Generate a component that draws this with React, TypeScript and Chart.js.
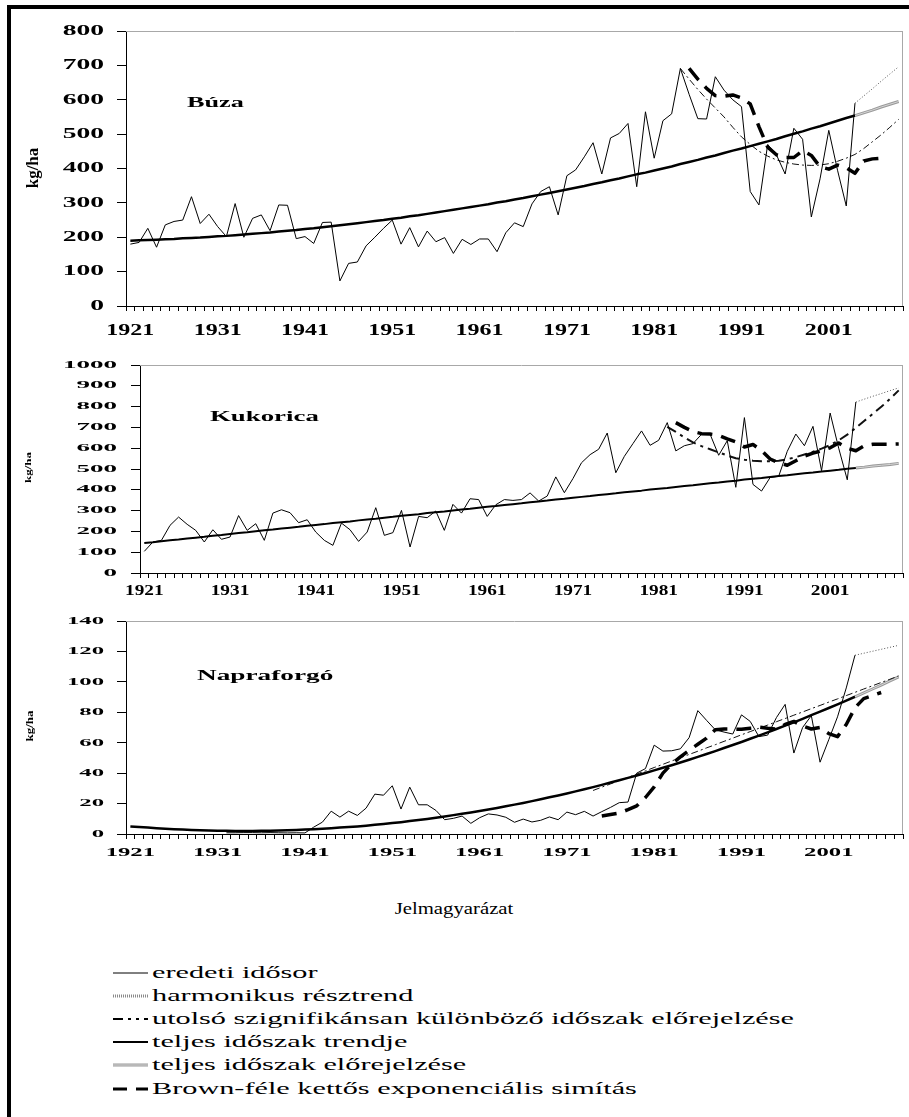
import React, { useEffect, useRef } from 'react';
import { Chart, registerables } from 'chart.js';

Chart.register(...registerables);

// ---------- categories ----------
const FIRST_YEAR = 1921;
const LAST_YEAR = 2009;
const YEARS: string[] = [];
for (let y = FIRST_YEAR; y <= LAST_YEAR; y++) YEARS.push(String(y));
const X_TICK_LABELS = ['1921', '1931', '1941', '1951', '1961', '1971', '1981', '1991', '2001'];

// ---------- Búza (wheat) ----------
const BUZA_Y_TICKS = [0, 100, 200, 300, 400, 500, 600, 700, 800];
const BUZA_ORIG_START = 1921;
const BUZA_ORIG = [
  180, 185, 226, 171, 236, 246, 250, 318, 240, 267,
  231, 202, 298, 200, 255, 265, 219, 294, 293, 196,
  202, 182, 243, 244, 73, 124, 128, 175, 200, 226,
  250, 180, 228, 172, 218, 187, 199, 153, 194, 179,
  195, 195, 158, 213, 242, 231, 297, 333, 347, 265,
  379, 396, 434, 475, 384, 489, 502, 531, 347, 565,
  430, 539, 559, 691, 616, 545, 544, 667, 628, 600,
  580, 333, 294, 470, 440, 384, 517, 485, 259, 370,
  511, 395, 291, 590,
];
const BUZA_TREND_START = 1921;
const BUZA_TREND = [
  190, 191, 192, 193, 194, 195, 197, 198, 199, 201,
  203, 204, 206, 208, 210, 212, 214, 217, 219, 221,
  224, 226, 229, 232, 235, 238, 241, 244, 247, 250,
  254, 257, 261, 264, 268, 272, 276, 280, 284, 288,
  292, 296, 301, 305, 310, 314, 319, 324, 329, 334,
  339, 344, 349, 355, 360, 366, 371, 377, 383, 388,
  394, 400, 406, 413, 419, 425, 432, 438, 445, 452,
  458, 465, 472, 479, 486, 494, 501, 508, 516, 523,
  531, 539, 547, 554,
];
const BUZA_FCAST_START = 2004;
const BUZA_FCAST = [554, 562, 570, 579, 587, 595];
const BUZA_HARM_START = 2004;
const BUZA_HARM = [590, 611, 632, 654, 675, 696];
const BUZA_LASTSIG_START = 1984;
const BUZA_LASTSIG = [
  691, 660, 630, 602, 576, 550, 520, 492, 470, 450,
  436, 425, 418, 413, 410, 409, 410, 414, 421, 430,
  441, 458, 478, 498, 520, 543,
];
const BUZA_BROWN_START = 1985;
const BUZA_BROWN = [
  691, 660, 633, 612, 610, 614, 605, 588, 522, 462,
  440, 432, 432, 452, 438, 405, 398, 410, 402, 386,
  422, 428, 430,
];

// ---------- Kukorica (maize) ----------
const KUK_Y_TICKS = [0, 100, 200, 300, 400, 500, 600, 700, 800, 900, 1000];
const KUK_ORIG_START = 1921;
const KUK_ORIG = [
  104, 149, 157, 229, 269, 234, 205, 149, 208, 162,
  173, 276, 205, 237, 157, 288, 304, 290, 242, 256,
  197, 157, 133, 240, 208, 152, 197, 314, 181, 194,
  301, 125, 272, 266, 298, 205, 330, 288, 357, 353,
  272, 328, 353, 349, 353, 385, 346, 370, 462, 386,
  454, 530, 569, 595, 673, 482, 561, 622, 683, 614,
  638, 723, 587, 612, 622, 667, 667, 566, 636, 412,
  747, 426, 394, 459, 465, 585, 668, 612, 705, 492,
  769, 600, 448, 822,
];
const KUK_TREND_START = 1921;
const KUK_TREND = [
  144, 148, 153, 157, 161, 166, 170, 174, 179, 183,
  188, 192, 196, 201, 205, 209, 214, 218, 222, 227,
  231, 235, 240, 244, 248, 253, 257, 261, 266, 270,
  275, 279, 283, 288, 292, 296, 301, 305, 309, 314,
  318, 322, 327, 331, 335, 340, 344, 348, 353, 357,
  362, 366, 370, 375, 379, 383, 388, 392, 396, 401,
  405, 409, 414, 418, 422, 427, 431, 435, 440, 444,
  449, 453, 457, 462, 466, 470, 475, 479, 483, 488,
  492, 496, 501, 505,
];
const KUK_FCAST_START = 2004;
const KUK_FCAST = [505, 509, 514, 518, 522, 527];
const KUK_HARM_START = 2004;
const KUK_HARM = [822, 836, 850, 863, 877, 890];
const KUK_LASTSIG_START = 1982;
const KUK_LASTSIG = [
  702, 678, 652, 628, 610, 595, 580, 565, 552, 545,
  540, 537, 537, 540, 547, 557, 570, 583, 598, 615,
  638, 665, 698, 732, 766, 800, 838, 878,
];
const KUK_BROWN_START = 1983;
const KUK_BROWN = [
  723, 700, 680, 670, 668, 662, 645, 630, 606, 618,
  588, 548, 530, 518, 540, 562, 576, 588, 602, 625,
  600, 588, 612, 619, 619, 619, 620,
];

// ---------- Napraforgó (sunflower) ----------
const NAP_Y_TICKS = [0, 20, 40, 60, 80, 100, 120, 140];
const NAP_ORIG_START = 1932;
const NAP_ORIG = [
  0.8, 0.8, 0.9, 0.9, 0.8, 0.9, 0.8, 0.7, 0.8, 0.7,
  4.5, 7.8, 15, 11.1, 15, 12.2, 17, 26.2, 25.5, 31.7,
  16.4, 30.8, 19.2, 19.2, 15.5, 9.4, 10.3, 11.8, 7, 10.7,
  13.2, 12.5, 11, 7.7, 9.8, 7.9, 9, 11.2, 9.4, 14.4,
  12.7, 14.9, 11.8, 14.7, 17.5, 20.6, 21, 40, 43, 58.4,
  54.5, 54.7, 56, 63.3, 81.1, 74.7, 68.5, 67, 65.7, 78.3,
  74, 64, 65, 76.5, 85.2, 53.2, 70, 77.8, 47.2, 62,
  77, 96, 117.5,
];
const NAP_TREND_START = 1921;
const NAP_TREND = [
  5.0, 4.6, 4.2, 3.8, 3.5, 3.2, 2.9, 2.7, 2.5, 2.3,
  2.2, 2.1, 2.0, 2.0, 2.0, 2.1, 2.2, 2.3, 2.5, 2.7,
  2.9, 3.2, 3.5, 3.8, 4.2, 4.6, 5.0, 5.5, 6.1, 6.6,
  7.2, 7.8, 8.5, 9.2, 9.9, 10.7, 11.5, 12.4, 13.3, 14.2,
  15.1, 16.1, 17.1, 18.2, 19.3, 20.4, 21.6, 22.8, 24.1, 25.3,
  26.6, 28.0, 29.4, 30.8, 32.3, 33.8, 35.3, 36.9, 38.5, 40.1,
  41.8, 43.5, 45.2, 47.0, 48.8, 50.7, 52.6, 54.5, 56.5, 58.5,
  60.5, 62.6, 64.7, 66.8, 69.0, 71.2, 73.4, 75.7, 78.1, 80.4,
  82.8, 85.2, 87.7, 90.2,
];
const NAP_FCAST_START = 2004;
const NAP_FCAST = [90.2, 92.7, 95.3, 97.9, 100.6, 103.3];
const NAP_HARM_START = 2004;
const NAP_HARM = [117.5, 118.8, 120.1, 121.4, 122.7, 124.0];
const NAP_LASTSIG_START = 1974;
const NAP_LASTSIG = [
  28.6, 30.8, 32.9, 35.1, 37.2, 39.4, 41.5, 43.7, 45.8, 48.0,
  50.1, 52.3, 54.4, 56.6, 58.7, 60.9, 63.0, 65.2, 67.3, 69.5,
  71.6, 73.8, 75.9, 78.1, 80.2, 82.4, 84.5, 86.7, 88.8, 91.0,
  93.1, 95.3, 97.4, 99.6, 101.7, 103.9,
];
const NAP_BROWN_START = 1975;
const NAP_BROWN = [
  11.8, 12.8, 13.8, 16.0, 18.5, 24.0, 31.0, 40.0, 46.0, 50.7,
  55.0, 59.0, 63.0, 68.5, 69.0, 69.0, 68.8, 69.5, 70.2, 69.5,
  69.0, 72.0, 74.0, 71.0, 69.0, 70.0, 66.0, 64.0, 72.0, 83.0,
  89.0, 91.0, 93.0,
];

// ---------- legend ----------
const LEGEND_LABELS = [
  'eredeti idősor',
  'harmonikus résztrend',
  'utolsó szignifikánsan különböző időszak előrejelzése',
  'teljes időszak trendje',
  'teljes időszak előrejelzése',
  'Brown-féle kettős exponenciális simítás',
];
const LEGEND_TITLE = 'Jelmagyarázat';

// ---------- helpers ----------
function place(start: number, vals: number[]): (number | null)[] {
  const out: (number | null)[] = YEARS.map(() => null);
  vals.forEach((v, k) => {
    out[start - FIRST_YEAR + k] = v;
  });
  return out;
}

const SERIF = '"Liberation Serif", "Times New Roman", serif';

const stretchTextPlugin = {
  id: 'stretchText',
  beforeDatasetsDraw(chart: any) {
    const { ctx, chartArea } = chart;
    ctx.save();
    ctx.strokeStyle = '#a8a8a8';
    ctx.lineWidth = 1;
    ctx.beginPath();
    ctx.moveTo(chartArea.left, chartArea.top + 0.5);
    ctx.lineTo(chartArea.right, chartArea.top + 0.5);
    ctx.moveTo(chartArea.right - 0.5, chartArea.top);
    ctx.lineTo(chartArea.right - 0.5, chartArea.bottom);
    ctx.stroke();
    ctx.restore();
  },
  afterDraw(chart: any, _args: any, opts: any) {
    const ctx = chart.ctx;
    const xs = chart.scales.x;
    const ys = chart.scales.y;
    const top = opts.canvasTop;
    ctx.save();
    ctx.fillStyle = '#000';

    // y tick labels
    const yt = opts.yTicks;
    ctx.font = `bold ${yt.size}px ${SERIF}`;
    ctx.textAlign = 'right';
    ctx.textBaseline = 'middle';
    for (const v of yt.values) {
      const y = ys.getPixelForValue(v);
      ctx.save();
      ctx.translate(yt.right, y + (yt.dy || 0));
      ctx.scale(yt.sx, yt.sy);
      ctx.fillText(String(v), 0, 0);
      ctx.restore();
    }

    // x tick labels
    const xt = opts.xTicks;
    ctx.font = `bold ${xt.size}px ${SERIF}`;
    ctx.textAlign = 'center';
    ctx.textBaseline = 'middle';
    for (const lab of xt.labels) {
      const idx = YEARS.indexOf(lab);
      const x = xs.getPixelForValue(idx);
      ctx.save();
      ctx.translate(x, xt.y - top);
      ctx.scale(xt.sx, xt.sy);
      ctx.fillText(lab, 0, 0);
      ctx.restore();
    }

    // chart title inside plot
    const t = opts.title;
    ctx.font = `bold ${t.size}px ${SERIF}`;
    ctx.textAlign = 'left';
    ctx.textBaseline = 'alphabetic';
    ctx.save();
    ctx.translate(t.x, t.y - top);
    ctx.scale(t.sx, 1);
    ctx.fillText(t.text, 0, 0);
    ctx.restore();

    // axis title (rotated)
    const a = opts.axisTitle;
    ctx.font = `bold ${a.size}px ${SERIF}`;
    ctx.textAlign = 'center';
    ctx.textBaseline = 'middle';
    ctx.save();
    ctx.translate(a.x, a.y - top);
    ctx.rotate(-Math.PI / 2);
    ctx.scale(1, a.squash);
    ctx.fillText(a.text, 0, 0);
    ctx.restore();

    ctx.restore();
  },
};

function ds(data: (number | null)[], color: string, width: number, dash: number[] = []) {
  return {
    data,
    borderColor: color,
    backgroundColor: color,
    borderWidth: width,
    borderDash: dash,
    pointRadius: 0,
    pointHoverRadius: 0,
    fill: false,
    tension: 0,
    spanGaps: false,
    borderCapStyle: 'butt',
    borderJoinStyle: 'round',
  };
}

interface Spec {
  canvasTop: number;
  height: number;
  padTop: number;
  xHeight: number;
  yWidth: number;
  yMax: number;
  yStep: number;
  datasets: any[];
  text: any;
}

function ChartBlock({ spec }: { spec: Spec }) {
  const ref = useRef<HTMLCanvasElement | null>(null);
  useEffect(() => {
    if (!ref.current) return;
    const chart = new Chart(ref.current, {
      type: 'line',
      data: { labels: YEARS, datasets: spec.datasets },
      options: {
        responsive: false,
        maintainAspectRatio: false,
        animation: false,
        devicePixelRatio: 1,
        events: [],
        layout: { padding: { top: spec.padTop, right: 6, left: 0, bottom: 0 } },
        plugins: {
          legend: { display: false },
          tooltip: { enabled: false },
          title: { display: false },
          stretchText: spec.text,
        } as any,
        scales: {
          x: {
            type: 'category',
            offset: true,
            grid: {
              display: true,
              drawOnChartArea: false,
              drawTicks: true,
              tickLength: 5,
              color: '#000',
              lineWidth: 1,
              offset: true,
            },
            border: { display: true, color: '#000', width: 1 },
            ticks: { display: false, autoSkip: false },
            afterFit: (s: any) => {
              s.height = spec.xHeight;
            },
          },
          y: {
            type: 'linear',
            min: 0,
            max: spec.yMax,
            ticks: { display: false, stepSize: spec.yStep },
            grid: {
              display: true,
              drawOnChartArea: false,
              drawTicks: true,
              tickLength: 9,
              color: '#000',
              lineWidth: 1,
            },
            border: { display: true, color: '#000', width: 1 },
            afterFit: (s: any) => {
              s.width = spec.yWidth;
            },
          },
        },
      } as any,
      plugins: [stretchTextPlugin as any],
    });
    return () => chart.destroy();
  }, [spec]);
  return (
    <canvas
      ref={ref}
      width={909}
      height={spec.height}
      style={{ position: 'absolute', left: 0, top: spec.canvasTop, width: 909, height: spec.height }}
    />
  );
}

function makeDatasets(
  orig: (number | null)[],
  trend: (number | null)[],
  fcast: (number | null)[],
  harm: (number | null)[],
  lastSig: (number | null)[],
  brown: (number | null)[],
  trendWidth: number,
  lastSigWidth: number,
  lastSigDash: number[],
) {
  return [
    ds(orig, '#000', 1),
    ds(trend, '#000', trendWidth),
    ds(brown, '#000', 3.5, [15, 9]),
    ds(lastSig, '#111', lastSigWidth, lastSigDash),
    ds(harm, '#555', 1, [1, 2]),
    ds(fcast, '#d6d6d6', 1),
    ds(fcast, '#9a9a9a', 3),
  ];
}

const SPEC_BUZA: Spec = {
  canvasTop: 0,
  height: 345,
  padTop: 31,
  xHeight: 39,
  yWidth: 126,
  yMax: 800,
  yStep: 100,
  datasets: makeDatasets(
    place(BUZA_ORIG_START, BUZA_ORIG),
    place(BUZA_TREND_START, BUZA_TREND),
    place(BUZA_FCAST_START, BUZA_FCAST),
    place(BUZA_HARM_START, BUZA_HARM),
    place(BUZA_LASTSIG_START, BUZA_LASTSIG),
    place(BUZA_BROWN_START, BUZA_BROWN),
    2.5,
    1,
    [7, 3, 2, 3],
  ),
  text: {
    canvasTop: 0,
    yTicks: { values: BUZA_Y_TICKS, size: 14.5, sx: 1.9, sy: 1, right: 104 },
    xTicks: { labels: X_TICK_LABELS, size: 16, sx: 1.5, sy: 1, y: 331 },
    title: { text: 'Búza', x: 187, y: 107, size: 15, sx: 1.75 },
    axisTitle: { text: 'kg/ha', x: 33.5, y: 168, size: 17, squash: 1 },
  },
};

const SPEC_KUK: Spec = {
  canvasTop: 345,
  height: 265,
  padTop: 20,
  xHeight: 37,
  yWidth: 140,
  yMax: 1000,
  yStep: 100,
  datasets: makeDatasets(
    place(KUK_ORIG_START, KUK_ORIG),
    place(KUK_TREND_START, KUK_TREND),
    place(KUK_FCAST_START, KUK_FCAST),
    place(KUK_HARM_START, KUK_HARM),
    place(KUK_LASTSIG_START, KUK_LASTSIG),
    place(KUK_BROWN_START, KUK_BROWN),
    2,
    2,
    [10, 5, 3, 5],
  ),
  text: {
    canvasTop: 345,
    yTicks: { values: KUK_Y_TICKS, size: 10, sx: 2.7, sy: 1, right: 117 },
    xTicks: { labels: X_TICK_LABELS, size: 14.5, sx: 1.33, sy: 1, y: 591.5 },
    title: { text: 'Kukorica', x: 210, y: 421, size: 14.5, sx: 1.85 },
    axisTitle: { text: 'kg/ha', x: 29, y: 467.5, size: 13, squash: 0.7 },
  },
};

const SPEC_NAP: Spec = {
  canvasTop: 610,
  height: 260,
  padTop: 11,
  xHeight: 36,
  yWidth: 126,
  yMax: 140,
  yStep: 20,
  datasets: makeDatasets(
    place(NAP_ORIG_START, NAP_ORIG),
    place(NAP_TREND_START, NAP_TREND),
    place(NAP_FCAST_START, NAP_FCAST),
    place(NAP_HARM_START, NAP_HARM),
    place(NAP_LASTSIG_START, NAP_LASTSIG),
    place(NAP_BROWN_START, NAP_BROWN),
    2.5,
    1,
    [7, 3, 2, 3],
  ),
  text: {
    canvasTop: 610,
    yTicks: { values: NAP_Y_TICKS, size: 11, sx: 2.25, sy: 1, right: 104 },
    xTicks: { labels: X_TICK_LABELS, size: 13, sx: 1.9, sy: 1, y: 852.5 },
    title: { text: 'Napraforgó', x: 197, y: 680, size: 14.5, sx: 1.88 },
    axisTitle: { text: 'kg/ha', x: 30, y: 726, size: 13, squash: 0.75 },
  },
};

function LegendSample({ kind }: { kind: number }) {
  const w = 35;
  const h = 8;
  const y = 4;
  let el: React.ReactNode = null;
  if (kind === 0) el = <line x1={0} y1={y} x2={w} y2={y} stroke="#000" strokeWidth={1} />;
  if (kind === 1)
    el = <line x1={0} y1={y} x2={w} y2={y} stroke="#8a8a8a" strokeWidth={3} strokeDasharray="1 1" />;
  if (kind === 2)
    el = <line x1={0} y1={y} x2={w} y2={y} stroke="#000" strokeWidth={2} strokeDasharray="10 5 3 5 3 5" />;
  if (kind === 3) el = <line x1={0} y1={y} x2={w} y2={y} stroke="#000" strokeWidth={2} />;
  if (kind === 4)
    el = (
      <g>
        <line x1={0} y1={y} x2={w} y2={y} stroke="#9a9a9a" strokeWidth={3} />
        <line x1={0} y1={y} x2={w} y2={y} stroke="#d6d6d6" strokeWidth={1} />
      </g>
    );
  if (kind === 5)
    el = <line x1={0} y1={y} x2={w} y2={y} stroke="#000" strokeWidth={3} strokeDasharray="14 9" />;
  return (
    <svg width={w} height={h} style={{ position: 'absolute', left: 0, top: -4 }}>
      {el}
    </svg>
  );
}

const LEGEND_ROW_Y = [973, 996, 1019, 1042, 1065, 1089];

export default function App() {
  return (
    <div
      style={{
        position: 'absolute',
        left: 0,
        top: 0,
        width: 909,
        height: 1117,
        overflow: 'hidden',
        background: '#fff',
      }}
    >
      <ChartBlock spec={SPEC_BUZA} />
      <ChartBlock spec={SPEC_KUK} />
      <ChartBlock spec={SPEC_NAP} />

      <div
        style={{
          position: 'absolute',
          left: 454,
          top: 908,
          transform: 'translate(-50%, -50%) scaleX(1.22)',
          fontFamily: SERIF,
          fontSize: 17,
          lineHeight: '17px',
          whiteSpace: 'nowrap',
          color: '#000',
        }}
      >
        {LEGEND_TITLE}
      </div>

      {LEGEND_LABELS.map((lab, i) => (
        <div key={lab} style={{ position: 'absolute', left: 113, top: LEGEND_ROW_Y[i], height: 0 }}>
          <LegendSample kind={i} />
          <div
            style={{
              position: 'absolute',
              left: 39,
              top: -9,
              fontFamily: SERIF,
              fontSize: 17,
              lineHeight: '18px',
              whiteSpace: 'nowrap',
              transform: 'scaleX(1.78)',
              transformOrigin: 'left center',
              color: '#000',
            }}
          >
            {lab}
          </div>
        </div>
      ))}

      {/* outer frame (left and top edges visible) */}
      <div style={{ position: 'absolute', left: 7, top: 5, width: 902, height: 4, background: '#000' }} />
      <div style={{ position: 'absolute', left: 7, top: 5, width: 4, height: 1112, background: '#000' }} />
    </div>
  );
}
